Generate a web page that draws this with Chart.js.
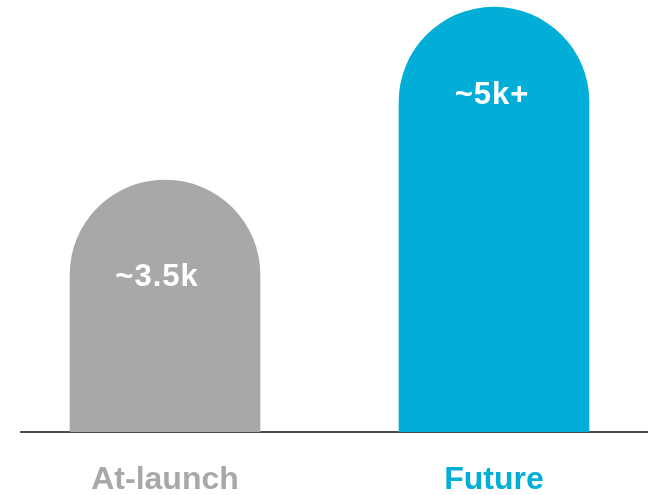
<!DOCTYPE html>
<html>
<head>
<meta charset="utf-8">
<script src="https://cdn.jsdelivr.net/npm/chart.js@4.4.1/dist/chart.umd.min.js"></script>
<style>
  html,body{margin:0;padding:0;background:#fff;}
  #wrap{width:649px;height:495px;position:relative;}
</style>
</head>
<body>
<div id="wrap"><canvas id="c"></canvas></div>
<script>
// 两根柱子：上线时 vs 未来
const categories = ["At-launch", "Future"];
const values = [3.5, 5.9];
const barLabels = ["~3.5k", "~5k+"];
const barColors = ["#a7a8aa", "#00aed7"];

// 柱内白字
const innerLabels = {
  id: "innerLabels",
  afterDatasetsDraw(chart, args, opts){
    const ctx = chart.ctx;
    const meta = chart.getDatasetMeta(0);
    ctx.save();
    ctx.font = "bold 31px 'Liberation Sans', Arial, sans-serif";
    ctx.fillStyle = "#fff";
    ctx.textAlign = "center";
    ctx.textBaseline = "alphabetic";
    if ("letterSpacing" in ctx) ctx.letterSpacing = "1px";
    meta.data.forEach((bar, i) => {
      ctx.fillText(barLabels[i], bar.x + opts.dx[i], bar.y + opts.dy[i]);
    });
    ctx.restore();
  }
};

new Chart(document.getElementById("c"), {
  type: "bar",
  data: {
    datasets: [{
      data: categories.map((_, i) => ({x: i, y: values[i]})),
      backgroundColor: barColors,
      barThickness: 190,
      borderRadius: {topLeft: 95, topRight: 95, bottomLeft: 0, bottomRight: 0}
    }]
  },
  options: {
    responsive: true, maintainAspectRatio: false, animation: false,
    layout: {padding: {left: 21, right: 2, top: 0, bottom: 0}},
    plugins: {legend: {display: false}, tooltip: {enabled: false},
      innerLabels: {dx: [-8, -2], dy: [106, 97]}},
    scales: {
      x: {
        type: "linear", min: -0.4377, max: 1.465, offset: false, z: 1,
        grid: {display: false, drawTicks: false},
        border: {display: true, color: "#4d4d4d", width: 2},
        afterBuildTicks: s => { s.ticks = categories.map((_, i) => ({value: i})); },
        afterFit: s => { s.height = 63; },
        ticks: {
          padding: 32,
          autoSkip: false,
          maxRotation: 0,
          font: {family: "'Liberation Sans', Arial, sans-serif", size: 32, weight: "bold", lineHeight: 1},
          color: c => barColors[c.index],
          callback: v => categories[v]
        }
      },
      y: {display: false, min: 0, max: 6}
    }
  },
  plugins: [innerLabels]
});
</script>
</body>
</html>
